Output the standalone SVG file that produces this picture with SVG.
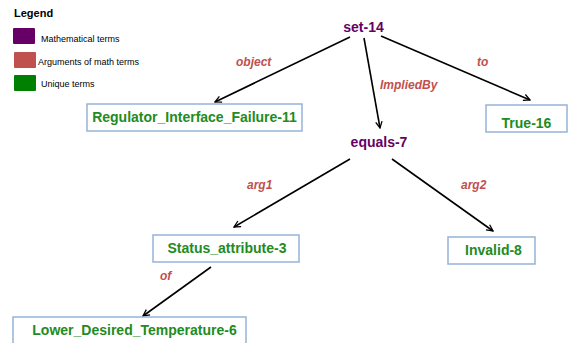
<svg xmlns="http://www.w3.org/2000/svg" width="568" height="343" viewBox="0 0 568 343">
<defs>
<marker id="arr" viewBox="0 0 10 10" refX="9" refY="5" markerWidth="8" markerHeight="8" markerUnits="userSpaceOnUse" orient="auto">
<path d="M1,1 L9,5 L1,9" fill="none" stroke="#000" stroke-width="1.6"/>
</marker>
<style>
.bg{fill:#fff}
.box{fill:#fff;stroke:#95b3d7;stroke-width:1.5}
.uniq{font-family:"Liberation Sans",Arial,sans-serif;font-weight:bold;font-size:14px;fill:#228b22;text-anchor:middle}
.math{font-family:"Liberation Sans",Arial,sans-serif;font-weight:bold;font-size:14px;fill:#660066;text-anchor:middle}
.lbl{font-family:"Liberation Sans",Arial,sans-serif;font-weight:bold;font-style:italic;font-size:12px;fill:#c0504d}
.edge{stroke:#000;stroke-width:1.6;fill:none;marker-end:url(#arr)}
.leg{font-family:"Liberation Sans",Arial,sans-serif;font-size:9px;fill:#000}
.legt{font-family:"Liberation Sans",Arial,sans-serif;font-size:11px;font-weight:bold;fill:#000}
</style>
</defs>
<rect class="bg" x="0" y="0" width="568" height="343"/>
<g id="legend">
<text class="legt" x="14" y="17">Legend</text>
<rect x="13" y="28" width="22" height="16" rx="1" fill="#660066"/>
<text class="leg" x="41" y="42">Mathematical terms</text>
<rect x="14" y="52" width="22" height="16" rx="1" fill="#c0504d"/>
<text class="leg" x="38" y="64.5">Arguments of math terms</text>
<rect x="14" y="75" width="22" height="16" rx="1" fill="#008000"/>
<text class="leg" x="41" y="87">Unique terms</text>
</g>
<g id="connectors">
<line class="edge" x1="350" y1="37" x2="215" y2="102"/>
<line class="edge" x1="364" y1="38" x2="380" y2="128"/>
<line class="edge" x1="381" y1="36" x2="530" y2="100"/>
<line class="edge" x1="350" y1="159" x2="234" y2="227"/>
<line class="edge" x1="392" y1="159" x2="493" y2="231"/>
<line class="edge" x1="211" y1="267" x2="143" y2="316"/>
<text class="lbl" x="236" y="66">object</text>
<text class="lbl" x="380" y="89">ImpliedBy</text>
<text class="lbl" x="477" y="66">to</text>
<text class="lbl" x="247" y="189">arg1</text>
<text class="lbl" x="461" y="189">arg2</text>
<text class="lbl" x="160" y="280">of</text>
</g>
<g id="set-14"><text class="math" x="363.5" y="32">set-14</text></g>
<g id="equals-7"><text class="math" x="379" y="147">equals-7</text></g>
<g id="regulator"><rect class="box" x="87" y="104" width="215" height="27"/><text class="uniq" x="194.5" y="122">Regulator_Interface_Failure-11</text></g>
<g id="true-16"><rect class="box" x="486" y="105" width="81" height="27"/><text class="uniq" x="526.5" y="128">True-16</text></g>
<g id="status"><rect class="box" x="153" y="235" width="146" height="27"/><text class="uniq" x="227" y="253">Status_attribute-3</text></g>
<g id="invalid"><rect class="box" x="448" y="237" width="87" height="27"/><text class="uniq" x="493.5" y="255">Invalid-8</text></g>
<g id="lower"><rect class="box" x="13" y="317" width="233" height="30"/><text class="uniq" x="134.5" y="335">Lower_Desired_Temperature-6</text></g>
</svg>
